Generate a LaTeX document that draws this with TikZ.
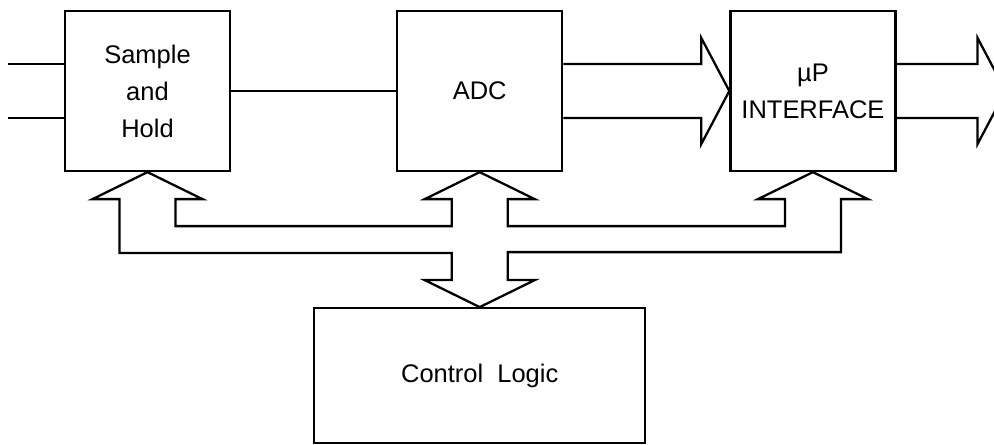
\documentclass[tikz,border=0pt]{standalone}
\usepackage{fontspec}
\setmainfont{Liberation Sans}
\usetikzlibrary{positioning,calc}

\tikzset{
  blk/.style={draw,line width=1.3pt,minimum width=3.3cm,minimum height=3.2cm,
    align=center,font=\fontsize{14.5}{21}\selectfont},
  wire/.style={line width=1.3pt},
  bus/.style={line width=1.3pt,line join=miter},
}

\begin{document}
\begin{tikzpicture}[x=0.02cm,y=-0.02cm]
  \useasboundingbox (0,0) rectangle (994,444);
  \clip (0,0) rectangle (994,444);
  % blocks
  \node[blk] (sh) at (147.5,91) {Sample\\and\\Hold};
  \node[blk,right=3.3cm of sh] (adc) {ADC};
  \node[blk,right=3.32cm of adc] (mup) {µP\\INTERFACE};
  \node[blk,below=2.7cm of adc,minimum width=6.62cm,minimum height=2.7cm] (ctrl) {Control\ \ Logic};
  % analog inputs
  \coordinate (in1) at (8,64);
  \coordinate (in2) at (8,118);
  \draw[wire] (in1) -- (in1 -| sh.west);
  \draw[wire] (in2) -- (in2 -| sh.west);
  \draw[wire] (sh.east) -- (adc.west);
  % data bus ADC -> uP
  \draw[bus] ($(adc.east)+(0,-27)$) -- ($(mup.west)+(-28,-27)$) -- ++(0,-26)
    -- (mup.west) -- ++(-28,53) -- ++(0,-26) -- ($(adc.east)+(0,27)$);
  % data bus out
  \draw[bus] ($(mup.east)+(0,-27)$) -- ++(81,0) -- ++(0,-26) -- ++(28,53)
    -- ++(-28,53) -- ++(0,-26) -- ($(mup.east)+(0,27)$);
  % control bus
  \draw[bus] (sh.south) -- ++(55,27) -- ++(-27,0) |- ($(adc.south)+(-28,54)$)
    -- ++(0,-27) -- ++(-27,0) -- (adc.south) -- ++(55,27) -- ++(-27,0)
    |- ($(mup.south)+(-28,54)$) -- ++(0,-27) -- ++(-27,0) -- (mup.south)
    -- ++(55,27) -- ++(-27,0) -- ++(0,53) -| ($(ctrl.north)+(28,-27)$)
    -- ++(27,0) -- (ctrl.north) -- ++(-55,-27) -- ++(27,0) -- ++(0,-27)
    -| ($(sh.south)+(-28,27)$) -- ++(-27,0) -- cycle;
\end{tikzpicture}
\end{document}
